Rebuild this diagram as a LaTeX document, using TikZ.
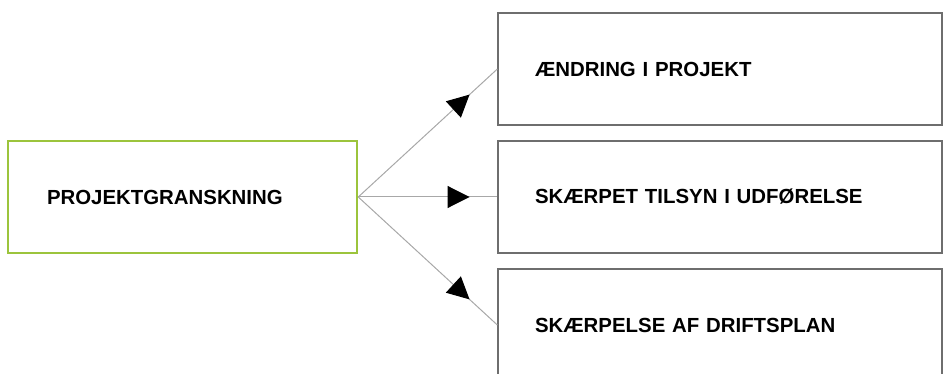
\documentclass[tikz,border=0pt]{standalone}
\usepackage{fontspec}
\setmainfont{Liberation Sans}
\usepackage{xcolor}
\usetikzlibrary{arrows.meta}
\usetikzlibrary{decorations.markings}
\definecolor{boxgreen}{HTML}{9CC43C}
\definecolor{boxgray}{HTML}{6E6E6E}
\definecolor{linegray}{HTML}{A8A8A8}

\begin{document}
\begin{tikzpicture}[x=1pt,y=-1pt,
  txt/.style={font=\fontsize{20.4}{24}\selectfont\bfseries},
  mainbox/.style={draw=boxgreen,line width=2.5pt,minimum width=349pt,minimum height=112pt,
    inner xsep=39pt,text width=271pt,align=left,txt},
  outbox/.style={draw=boxgray,line width=1.3pt,minimum width=444pt,minimum height=112pt,
    inner xsep=37pt,text width=370pt,align=left,txt},
  link/.style={draw=linegray,line width=1pt,postaction={decorate},
    decoration={markings,mark=at position 0.8 with {\arrow[black]{Triangle[length=22pt,width=22pt]}}}}]
  \useasboundingbox (0,0) rectangle (943,374);
  \clip (0,0) rectangle (943,374);
  \node[mainbox] (gransk) at (182.5,197) {PROJEKTGRANSKNING};
  \node[outbox] (aendr) at (720,69) {ÆNDRING I PROJEKT};
  \node[outbox] (tilsyn) at (720,197) {SKÆRPET TILSYN I UDFØRELSE};
  \node[outbox] (drift) at (720,325) {SKÆRPELSE AF DRIFTSPLAN};
  \path[link] (gransk.east) -- (aendr.west);
  \path[link] (gransk.east) -- (tilsyn.west);
  \path[link] (gransk.east) -- (drift.west);
\end{tikzpicture}
\end{document}
